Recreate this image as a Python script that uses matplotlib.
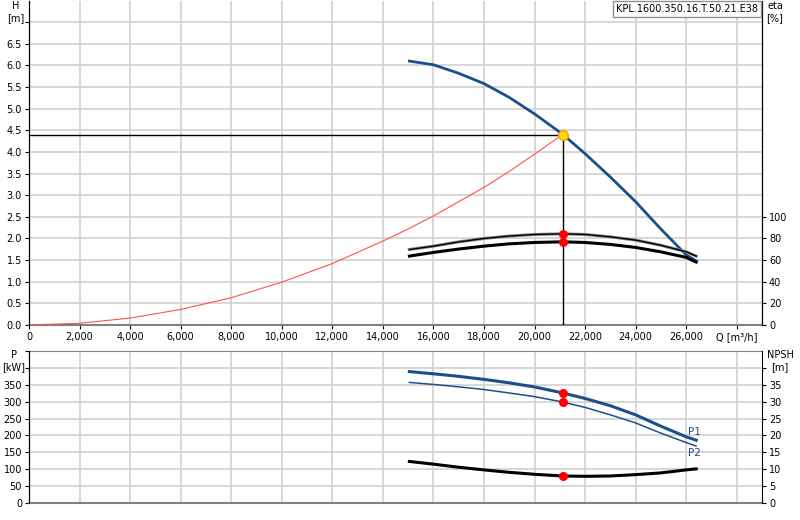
import matplotlib
matplotlib.use("Agg")
import matplotlib.pyplot as plt

plt.rcParams['font.family'] = ['DejaVu Sans']

# ---- data ----
q_curve = [15049, 16000, 16991, 18000, 18973, 20000, 21110, 22000, 23000, 24000, 24980, 26000, 26396]
h_pump = [6.10, 6.015, 5.82, 5.58, 5.27, 4.88, 4.41, 3.96, 3.42, 2.85, 2.23, 1.62, 1.48]
eta_1 = [69.8, 72.9, 76.8, 80.0, 82.2, 83.7, 84.3, 83.7, 81.5, 78.5, 73.8, 67.7, 63.7]
eta_2 = [63.7, 67.1, 70.2, 72.9, 75.0, 76.3, 76.9, 76.3, 74.5, 71.7, 67.7, 62.5, 58.2]
p1 = [389, 382.5, 375, 366, 356, 343.6, 326, 309.5, 288, 261, 228, 196, 186]
p2 = [357, 351, 344, 336, 326, 315, 299, 283, 261, 237, 207.4, 179, 168.5]
npsh = [12.3, 11.5, 10.6, 9.8, 9.1, 8.5, 8.0, 7.9, 8.0, 8.4, 8.9, 9.8, 10.1]

q_sys = [0, 2000, 4000, 6000, 8000, 10000, 12000, 14000, 15000, 16000, 17000, 18000, 19000, 20000, 21110]
h_sys = [0.0, 0.04, 0.16, 0.36, 0.63, 0.99, 1.42, 1.94, 2.22, 2.52, 2.85, 3.18, 3.55, 3.95, 4.40]

q_op = 21110
h_op = 4.40
eta1_op = 84.3
eta2_op = 76.6
p1_op = 326
p2_op = 299
npsh_op = 8.0

x_ticks = list(range(0, 28000, 2000))
h_ticks = [0.0, 0.5, 1.0, 1.5, 2.0, 2.5, 3.0, 3.5, 4.0, 4.5, 5.0, 5.5, 6.0, 6.5]
eta_ticks = [0, 20, 40, 60, 80, 100]
p_ticks = [0, 50, 100, 150, 200, 250, 300, 350]
npsh_ticks = [0, 5, 10, 15, 20, 25, 30, 35]

title_text = "KPL.1600.350.16.T.50.21.E38"
q_label = "Q [m³/h]"

# ---- styles ----
BLUE = '#1b4f8a'
GRID = '#d4d4d4'
FS = 7

fig = plt.figure(figsize=(8.0, 5.2), dpi=100)
L, R = 29 / 800, 762 / 800
ax = fig.add_axes([L, 1 - 325 / 520, R - L, 325 / 520 - 0.001])
axe = ax.twinx()
axp = fig.add_axes([L, 1 - 503 / 520, R - L, (503 - 351) / 520])
axn = axp.twinx()

XMAX = 29000

# top plot
ax.set_xlim(0, XMAX)
ax.set_ylim(0, 7.5)
axe.set_ylim(0, 300)
ax.set_xticks(list(range(0, XMAX + 1, 2000)))
ax.set_xticklabels([f"{v:,}" for v in x_ticks] + [q_label])
ax.set_yticks([i * 0.5 for i in range(15)])
ax.set_yticklabels([f"{v:.1f}" for v in h_ticks] + [""])
axe.set_yticks(eta_ticks)
ax.grid(True, color=GRID, linewidth=1.3)
ax.set_axisbelow(True)

ax.plot(q_sys, h_sys, color='#ff5050', linewidth=0.8, zorder=3)
ax.plot(q_curve, h_pump, color=BLUE, linewidth=2.0, zorder=4)
ax.plot([0, q_op], [h_op, h_op], color='black', linewidth=1.0, zorder=5)
ax.plot([q_op, q_op], [0, h_op], color='black', linewidth=1.0, zorder=5)
axe.plot(q_curve, eta_1, color='#888888', linewidth=2.2, zorder=3)
axe.plot(q_curve, eta_1, color='black', linewidth=1.0, zorder=3)
axe.plot(q_curve, eta_2, color='black', linewidth=2.2, zorder=3)
axe.plot([q_op, q_op], [eta1_op, eta2_op], 'o', color='red', markersize=5.5, zorder=6)
ax.plot([q_op], [h_op], 'o', markerfacecolor='#ffe000', markeredgecolor='#ff9a00',
        markersize=7, markeredgewidth=1.0, zorder=7)

for a in (ax, axe):
    a.tick_params(labelsize=FS, length=3, width=0.8, pad=2, colors='black')
ax.tick_params(axis='x', length=3, pad=2)
ax.spines['top'].set_visible(False)
axe.spines['top'].set_visible(False)
ax.spines['left'].set_color('black')
ax.spines['bottom'].set_color('#808080')
ax.spines['bottom'].set_linewidth(1.5)
axe.spines['right'].set_color('black')
axe.spines['bottom'].set_visible(False)

fig.text(16 / 800, 1 - 6 / 520, "H", fontsize=FS, ha='center', va='center')
fig.text(16 / 800, 1 - 18 / 520, "[m]", fontsize=FS, ha='center', va='center')
fig.text(775 / 800, 1 - 6 / 520, "eta", fontsize=FS, ha='center', va='center')
fig.text(775 / 800, 1 - 18 / 520, "[%]", fontsize=FS, ha='center', va='center')
fig.text(687 / 800, 1 - 9 / 520, title_text, fontsize=FS, ha='center', va='center',
         bbox=dict(boxstyle='square,pad=0.35', facecolor='white', edgecolor='#909090', linewidth=1.0))

# bottom plot
axp.set_xlim(0, XMAX)
axp.set_ylim(0, 450)
axn.set_ylim(0, 45)
axp.set_xticks(list(range(0, XMAX + 1, 2000)))
axp.set_xticklabels([])
axp.tick_params(axis='x', length=0)
axp.set_yticks(list(range(0, 451, 50)))
axp.set_yticklabels([str(v) for v in p_ticks] + ["", ""])
axn.set_yticks(list(range(0, 41, 5)))
axn.set_yticklabels([str(v) for v in npsh_ticks] + [""])
axp.grid(True, color=GRID, linewidth=1.3)
axp.set_axisbelow(True)

axp.plot(q_curve, p1, color=BLUE, linewidth=2.2, zorder=4)
axp.plot(q_curve, p2, color=BLUE, linewidth=1.1, zorder=4)
axn.plot(q_curve, npsh, color='black', linewidth=2.2, zorder=4)
axp.plot([q_op, q_op], [p1_op, p2_op], 'o', color='red', markersize=5.5, zorder=6)
axn.plot([q_op], [npsh_op], 'o', color='red', markersize=5.5, zorder=6)
axp.text(q_curve[-1] - 50, 210, "P1", fontsize=FS + 0.5, color=BLUE, ha='center', va='center')
axp.text(q_curve[-1] - 50, 148, "P2", fontsize=FS + 0.5, color=BLUE, ha='center', va='center')

for a in (axp, axn):
    a.tick_params(axis='y', labelsize=FS, length=3, width=0.8, pad=2, colors='black')
axp.spines['top'].set_color('#808080')
axn.spines['top'].set_visible(False)
axp.spines['left'].set_color('black')
axp.spines['bottom'].set_color('#808080')
axp.spines['bottom'].set_linewidth(1.5)
axn.spines['right'].set_color('black')
axp.spines['right'].set_visible(False)
axn.spines['bottom'].set_visible(False)

fig.text(14 / 800, 1 - 355 / 520, "P", fontsize=FS, ha='center', va='center')
fig.text(14 / 800, 1 - 367 / 520, "[kW]", fontsize=FS, ha='center', va='center')
fig.text(780 / 800, 1 - 355 / 520, "NPSH", fontsize=FS, ha='center', va='center')
fig.text(780 / 800, 1 - 367 / 520, "[m]", fontsize=FS, ha='center', va='center')

fig.savefig("out.png", dpi=100, facecolor='white')
